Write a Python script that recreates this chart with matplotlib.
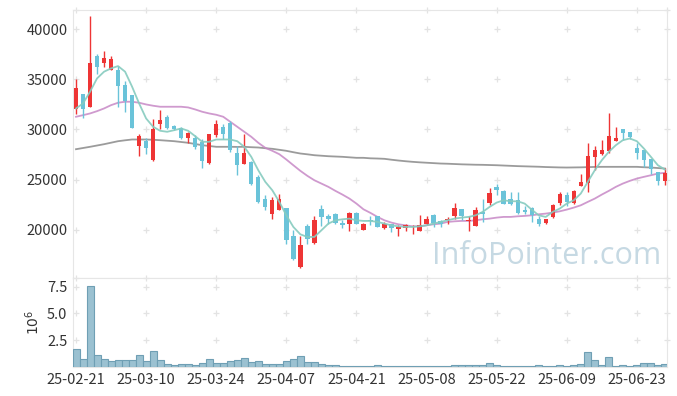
import matplotlib
matplotlib.use("Agg")
import matplotlib.pyplot as plt
import numpy as np

plt.rcParams["font.family"] = ["Noto Sans CJK KR", "DejaVu Sans"]

# OHLC (KRW), one row per trading day
opens = [32000, 33530, 32270, 37330, 36670, 35930, 35930, 34430, 33430, 28370,
         28830, 26930, 30530, 31200, 30330, 30130, 29170, 29130, 28770, 26700,
         29430, 30270, 30600, 27700, 26600, 26770, 25270, 23030, 21600, 22000,
         22130, 19400, 16270, 20330, 18700, 22030, 21330, 21530, 20630, 20530,
         21670, 20000, 21000, 21330, 20170, 20530, 20070, 20170, 19950, 19870,
         20570, 21430, 20830, 20930, 21330, 22030, 20900, 20370, 21770, 22670,
         24270, 23830, 23030, 22930, 21930, 22200, 21100, 20670, 21270, 22670,
         23430, 22700, 24370, 24670, 27270, 27530, 27870, 28870, 30030, 29700,
         28170, 27930, 27030, 25770, 24870]
highs = [35000, 33550, 41330, 37530, 37870, 37370, 36330, 34870, 33450, 29530,
         29100, 31030, 31930, 31470, 30430, 30270, 29770, 29430, 29000, 29530,
         30930, 30500, 30830, 28370, 29500, 26870, 25430, 23430, 23270, 23530,
         22150, 19930, 19370, 20600, 21330, 22430, 21530, 21670, 21000, 21770,
         21770, 20670, 21330, 21350, 20770, 20600, 20430, 20570, 20430, 21430,
         21330, 21530, 21000, 21270, 22670, 22100, 21330, 22270, 23100, 24170,
         24600, 23930, 23770, 23770, 22330, 22230, 21330, 21100, 22530, 23770,
         23770, 23930, 25600, 28600, 28400, 28930, 31600, 30200, 30050, 29770,
         28600, 27950, 27050, 25790, 26200]
lows = [31500, 31100, 32200, 35530, 36200, 35900, 32270, 31770, 30100, 27370,
        27600, 26900, 30000, 30000, 29930, 29030, 28600, 28100, 26200, 26600,
        29270, 29000, 27770, 25430, 26550, 24470, 22670, 21930, 21100, 21950,
        18600, 16930, 16200, 18600, 18600, 20330, 20530, 20600, 20200, 19870,
        20530, 19930, 20430, 20230, 20100, 19770, 19370, 19900, 19600, 19850,
        20500, 20270, 20270, 20600, 21100, 21000, 19870, 20330, 20770, 22430,
        23430, 22530, 22500, 21530, 21600, 20770, 20330, 20530, 21200, 22430,
        22370, 22600, 24330, 23770, 25930, 27500, 27670, 28850, 28930, 29000,
        27100, 26270, 25600, 24500, 24430]
closes = [34100, 32070, 36600, 36270, 37100, 37000, 34330, 32830, 30130, 29330,
          28170, 30030, 30930, 30170, 30030, 29170, 29630, 28270, 26870, 29530,
          30530, 29530, 27930, 26500, 27700, 24600, 22770, 22270, 22930, 23100,
          19000, 17100, 18430, 19100, 20930, 21270, 21030, 20700, 20430, 21670,
          20600, 20600, 20870, 20270, 20530, 20170, 20270, 20430, 20000, 20430,
          21030, 20670, 20530, 21100, 22200, 21330, 20950, 21930, 21600, 23670,
          24000, 22600, 22530, 21700, 21770, 21430, 20600, 21030, 22500, 23600,
          22770, 23870, 24730, 27400, 27930, 28000, 29330, 29130, 29600, 29270,
          27670, 26930, 26100, 24870, 25700]

# moving averages as drawn on the chart
ma5 = [32100, 32600, 33770, 35100, 35770, 36100, 36330, 35770, 34270, 32600,
       31100, 30270, 29870, 29770, 29930, 30100, 29870, 29330, 28770, 28770,
       29000, 29000, 29000, 28830, 28270, 27270, 25930, 24770, 23930, 22770,
       21430, 20270, 19530, 19270, 19270, 19930, 20600, 20930, 21030, 21100,
       20930, 20870, 20870, 20770, 20600, 20430, 20330, 20270, 20270, 20330,
       20430, 20600, 20770, 20930, 21100, 21200, 21270, 21430, 21770, 22270,
       22700, 22930, 22830, 22830, 22600, 22000, 21430, 21270, 21770, 22100,
       22600, 22930, 23600, 24770, 25930, 26930, 27770, 28430, 28930, 29100,
       28830, 28100, 27270, 26430, 26000]
ma20 = [31270, 31430, 31600, 31830, 32100, 32430, 32670, 32770, 32770, 32670,
        32500, 32370, 32270, 32270, 32270, 32270, 32200, 32000, 31770, 31600,
        31470, 31270, 30770, 30270, 29770, 29270, 28670, 28170, 27870, 27530,
        27000, 26430, 25870, 25370, 24930, 24600, 24270, 23870, 23500, 23100,
        22600, 22030, 21670, 21270, 20930, 20700, 20530, 20430, 20330, 20330,
        20430, 20530, 20600, 20770, 20830, 20870, 20870, 20930, 21030, 21100,
        21200, 21270, 21270, 21330, 21370, 21430, 21530, 21600, 21700, 21830,
        22000, 22200, 22430, 22770, 23100, 23500, 23870, 24270, 24600, 24870,
        25100, 25270, 25430, 25600, 25670]
ma120 = [28030, 28150, 28270, 28400, 28530, 28680, 28830, 28920, 29000, 29000,
         29000, 28970, 28930, 28880, 28830, 28750, 28670, 28550, 28430, 28350,
         28270, 28270, 28270, 28260, 28270, 28230, 28200, 28130, 28070, 27970,
         27870, 27730, 27600, 27520, 27430, 27380, 27330, 27300, 27270, 27220,
         27170, 27170, 27120, 27100, 27070, 26980, 26900, 26830, 26770, 26720,
         26680, 26640, 26600, 26580, 26550, 26520, 26500, 26480, 26470, 26450,
         26430, 26400, 26370, 26340, 26320, 26300, 26280, 26250, 26230, 26210,
         26200, 26210, 26220, 26240, 26260, 26270, 26270, 26270, 26270, 26270,
         26270, 26230, 26200, 26150, 26100]

# volume in millions of shares
volume_m = [1.66, 0.72, 7.56, 1.16, 0.78, 0.53, 0.69, 0.69, 0.69, 1.16,
            0.53, 1.47, 0.63, 0.31, 0.22, 0.31, 0.31, 0.22, 0.41, 0.78,
            0.41, 0.34, 0.53, 0.69, 0.88, 0.44, 0.53, 0.25, 0.31, 0.25,
            0.53, 0.78, 1.03, 0.44, 0.44, 0.31, 0.16, 0.16, 0.13, 0.13,
            0.13, 0.09, 0.06, 0.16, 0.06, 0.06, 0.13, 0.06, 0.06, 0.13,
            0.06, 0.06, 0.06, 0.06, 0.22, 0.16, 0.22, 0.16, 0.22, 0.41,
            0.16, 0.13, 0.13, 0.13, 0.06, 0.13, 0.22, 0.06, 0.13, 0.22,
            0.13, 0.22, 0.31, 1.44, 0.63, 0.22, 0.97, 0.13, 0.22, 0.06,
            0.22, 0.41, 0.41, 0.22, 0.31]

tick_labels = ["25-02-21", "25-03-10", "25-03-24", "25-04-07", "25-04-21",
               "25-05-08", "25-05-22", "25-06-09", "25-06-23"]
price_ticks = [20000, 25000, 30000, 35000, 40000]
volume_ticks = [2.5, 5.0, 7.5]

UP = "#ee3535"
DOWN = "#6ac3d9"
GRID = "#e3e3e3"
SPINE = "#e6e6e6"
TEXT = "#333333"

o = np.array(opens)
c = np.array(closes)
x = np.arange(len(o))
colors = np.where(c >= o, UP, DOWN)
xticks = x[::10][:len(tick_labels)]
xlim = (-0.43, 84.3)

fig = plt.figure(figsize=(6.77, 3.96), dpi=100)
ax = fig.add_axes([73 / 677, 1 - 278 / 396, 594 / 677, 268 / 396])
axv = fig.add_axes([73 / 677, 1 - 367 / 396, 594 / 677, 89 / 396])

# price panel
ax.vlines(x, lows, highs, colors=colors, lw=1.0, zorder=3)
body = np.maximum(np.abs(c - o), 50)
ax.bar(x, body, bottom=np.minimum(o, c), width=0.62, color=colors, lw=0, zorder=4)
ax.plot(x, ma120, color="#8a8a8a", lw=1.3, alpha=0.85, zorder=2)
ax.plot(x, ma20, color="#c788c6", lw=1.3, alpha=0.85, zorder=2)
ax.plot(x, ma5, color="#86cbbf", lw=1.3, alpha=0.9, zorder=5)
ax.set_xlim(*xlim)
ax.set_ylim(15170, 41930)
ax.set_yticks(price_ticks)
ax.set_xticks(xticks)
ax.set_xticklabels([])
ax.text(0.99, 0.025, "InfoPointer.com", transform=ax.transAxes, ha="right",
        va="bottom", fontsize=22, color="#c6d9e3", family=["Open Sans", "DejaVu Sans"],
        zorder=1)

# volume panel
axv.bar(x, volume_m, width=1.0, color="#9bc1d1", edgecolor="#6f9fb4", lw=0.8, zorder=3)
axv.set_xlim(*xlim)
axv.set_ylim(0, 8.31)
axv.set_yticks(volume_ticks)
axv.set_yticklabels([f"{v:.1f}" for v in volume_ticks])
axv.set_xticks(xticks)
axv.set_xticklabels(tick_labels)
axv.set_ylabel(r"$10^6$", color=TEXT, fontsize=10, labelpad=4)

for a, yt, ytop in [(ax, price_ticks, 41930), (axv, volume_ticks, 8.31)]:
    gx, gy = np.meshgrid(list(xticks) + [xlim[1]], list(yt) + [ytop])
    a.scatter(gx.ravel(), gy.ravel(), marker="+", s=22, color=GRID, lw=0.9,
              zorder=0, clip_on=False)
    for s in a.spines.values():
        s.set_color(SPINE)
    a.tick_params(length=0, labelsize=10.5, colors=TEXT, pad=4)

fig.savefig("out.png", dpi=100)
